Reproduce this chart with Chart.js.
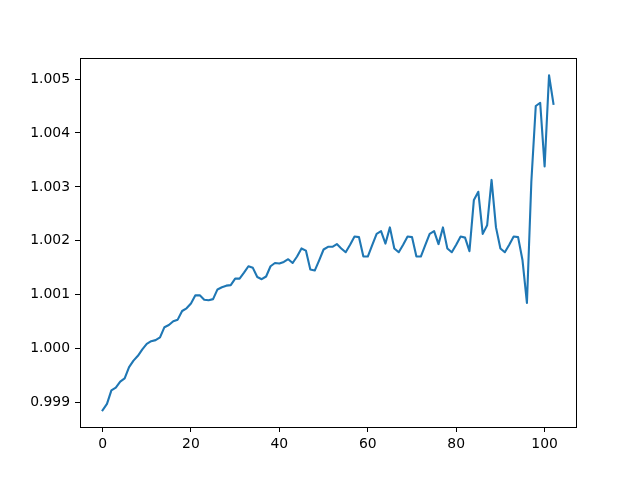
<!DOCTYPE html>
<html>
<head>
<meta charset="utf-8">
<script src="https://cdn.jsdelivr.net/npm/chart.js@4/dist/chart.umd.min.js"></script>
<style>
html,body{margin:0;padding:0;background:#fff;}
#c{display:block;}
</style>
</head>
<body>
<canvas id="c" width="640" height="480"></canvas>
<script>
const values = [
  0.99886, 0.99898, 0.99923, 0.99928, 0.99939, 0.99945, 0.99966, 0.99978, 0.99987, 0.99999,
  1.00009, 1.00014, 1.00016, 1.00021, 1.00040, 1.00044, 1.00051, 1.00054, 1.00070, 1.00075,
  1.00084, 1.00099, 1.00099, 1.00091, 1.00090, 1.00092, 1.00110, 1.00114, 1.00117, 1.00118,
  1.00130, 1.00130, 1.00141, 1.00153, 1.00150, 1.00133, 1.00129, 1.00134, 1.00153, 1.00159,
  1.00158, 1.00161, 1.00166, 1.00159, 1.00171, 1.00186, 1.00182, 1.00147, 1.00145, 1.00164,
  1.00184, 1.00189, 1.00189, 1.00194, 1.00186, 1.00179, 1.00193, 1.00208, 1.00207, 1.00171,
  1.00171, 1.00192, 1.00213, 1.00218, 1.00195, 1.00225, 1.00186, 1.00179, 1.00193, 1.00208,
  1.00207, 1.00171, 1.00171, 1.00192, 1.00213, 1.00218, 1.00194, 1.00225, 1.00186, 1.00179,
  1.00193, 1.00208, 1.00206, 1.00181, 1.00276, 1.00291, 1.00213, 1.00229, 1.00313, 1.00225,
  1.00186, 1.00179, 1.00193, 1.00208, 1.00207, 1.00164, 1.00085, 1.00310, 1.00450, 1.00456,
  1.00338, 1.00507, 1.00454
];
const xTicks = [0, 20, 40, 60, 80, 100];
const yTicks = [0.999, 1.000, 1.001, 1.002, 1.003, 1.004, 1.005];

const points = values.map((v, i) => ({x: i, y: v}));

const frame = {
  id: 'frame',
  afterDraw(chart) {
    const {ctx, chartArea: a} = chart;
    ctx.save();
    ctx.strokeStyle = '#000';
    ctx.lineWidth = 1;
    ctx.strokeRect(Math.round(a.left) + 0.5, Math.round(a.top) + 0.5,
                   Math.round(a.right - a.left), Math.round(a.bottom - a.top));
    ctx.restore();
  }
};

const font = {family: 'DejaVu Sans', size: 13.9};

new Chart(document.getElementById('c'), {
  type: 'line',
  data: {
    datasets: [{
      data: points,
      borderColor: '#1f77b4',
      borderWidth: 2.1,
      borderJoinStyle: 'round',
      borderCapStyle: 'square',
      pointRadius: 0,
      tension: 0,
      fill: false
    }]
  },
  options: {
    responsive: false,
    animation: false,
    events: [],
    layout: {padding: {left: 0, top: 58, right: 64, bottom: 0}},
    plugins: {legend: {display: false}, tooltip: {enabled: false}},
    scales: {
      x: {
        type: 'linear',
        min: -5.1,
        max: 107.1,
        afterBuildTicks: s => { s.ticks = xTicks.map(v => ({value: v})); },
        afterFit: s => { s.height = 53; },
        grid: {drawOnChartArea: false, drawTicks: true, tickLength: 5, color: '#000'},
        border: {display: true, color: '#000'},
        ticks: {color: '#000', font: font, padding: 4, maxRotation: 0,
                callback: v => String(v)}
      },
      y: {
        type: 'linear',
        min: 0.99855,
        max: 1.00539,
        afterBuildTicks: s => { s.ticks = yTicks.map(v => ({value: v})); },
        afterFit: s => { s.width = 80; },
        grid: {drawOnChartArea: false, drawTicks: true, tickLength: 5, color: '#000'},
        border: {display: true, color: '#000'},
        ticks: {color: '#000', font: font, padding: 5,
                callback: v => Number(v).toFixed(3)}
      }
    }
  },
  plugins: [frame]
});
</script>
</body>
</html>
